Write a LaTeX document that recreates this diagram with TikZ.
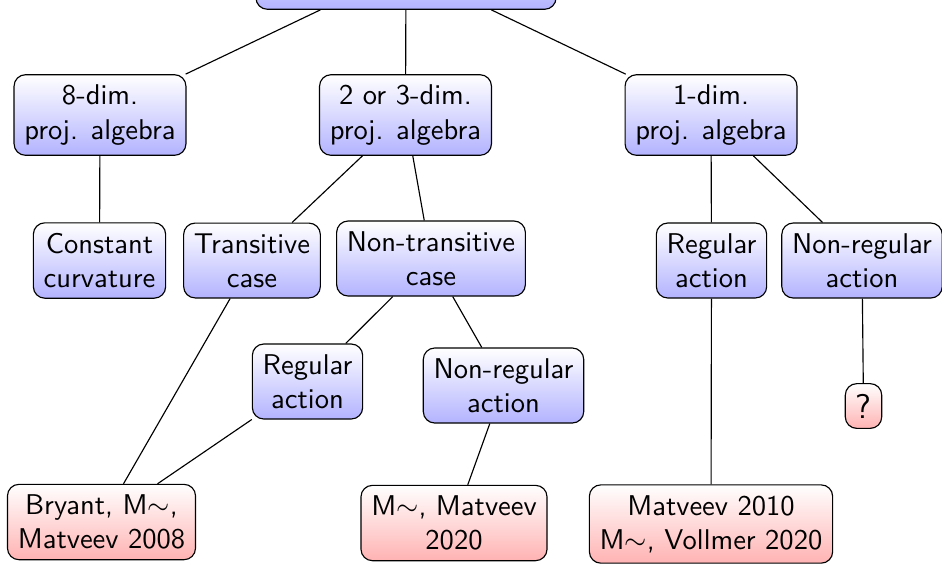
\documentclass[tikz,border=0pt]{standalone}
\usetikzlibrary{positioning}

\begin{document}
\begin{tikzpicture}[x=0.35pt, y=-0.35pt,
	algebra/.style={rectangle, rounded corners, align=center, inner sep=3.6pt, draw=black, top color=white, bottom color=blue!30, font=\sffamily},
	result/.style={algebra, bottom color=red!30},
	link/.style={thin, black}]

	\useasboundingbox (0,0) rectangle (942,563);

	\node (root) [algebra, align=left] at (406,-31) {Metrics with non-trivial\\projective algebra};

	\node (dimeight) [algebra] at (100,115) {8-dim.\\proj.  algebra};
	\node (dimtwo) [algebra] at (405.5,115) {2 or 3-dim.\\proj.  algebra};
	\node (dimone) [algebra] at (711,115) {1-dim.\\proj.  algebra};

	\node (constcurv) [algebra] at (99.5,260.5) {Constant\\curvature};
	\node (transcase) [algebra] at (252,260.5) {Transitive\\case};
	\node (nontranscase) [algebra] at (431,258.5) {Non-transitive\\case};
	\node (regone) [algebra] at (711.5,260.5) {Regular\\action};
	\node (nonregone) [algebra] at (862,260.5) {Non-regular\\action};

	\node (regtwo) [algebra] at (307.5,381.5) {Regular\\action};
	\node (nonregtwo) [algebra] at (503.5,385.5) {Non-regular\\action};
	\node (unknown) [result, font=\sffamily\large] at (863.5,406) {?};

	\node (bryant) [result] at (101.5,522) {Bryant, M$\sim$,\\Matveev 2008};
	\node (matveevtwo) [result] at (454,523) {M$\sim$, Matveev\\2020};
	\node (vollmer) [result] at (711,524) {Matveev 2010\\M$\sim$, Vollmer 2020};

	\draw [link] (root) -- (dimeight);
	\draw [link] (root) -- (dimtwo);
	\draw [link] (root) -- (dimone);
	\draw [link] (dimeight) -- (constcurv);
	\draw [link] (dimtwo) -- (transcase);
	\draw [link] (dimtwo) -- (nontranscase);
	\draw [link] (dimone) -- (regone);
	\draw [link] (dimone) -- (nonregone);
	\draw [link] (nontranscase) -- (regtwo);
	\draw [link] (nontranscase) -- (nonregtwo);
	\draw [link] (transcase) -- (bryant);
	\draw [link] (regtwo) -- (bryant);
	\draw [link] (nonregtwo) -- (matveevtwo);
	\draw [link] (regone) -- (vollmer);
	\draw [link] (nonregone) -- (unknown);
\end{tikzpicture}
\end{document}
